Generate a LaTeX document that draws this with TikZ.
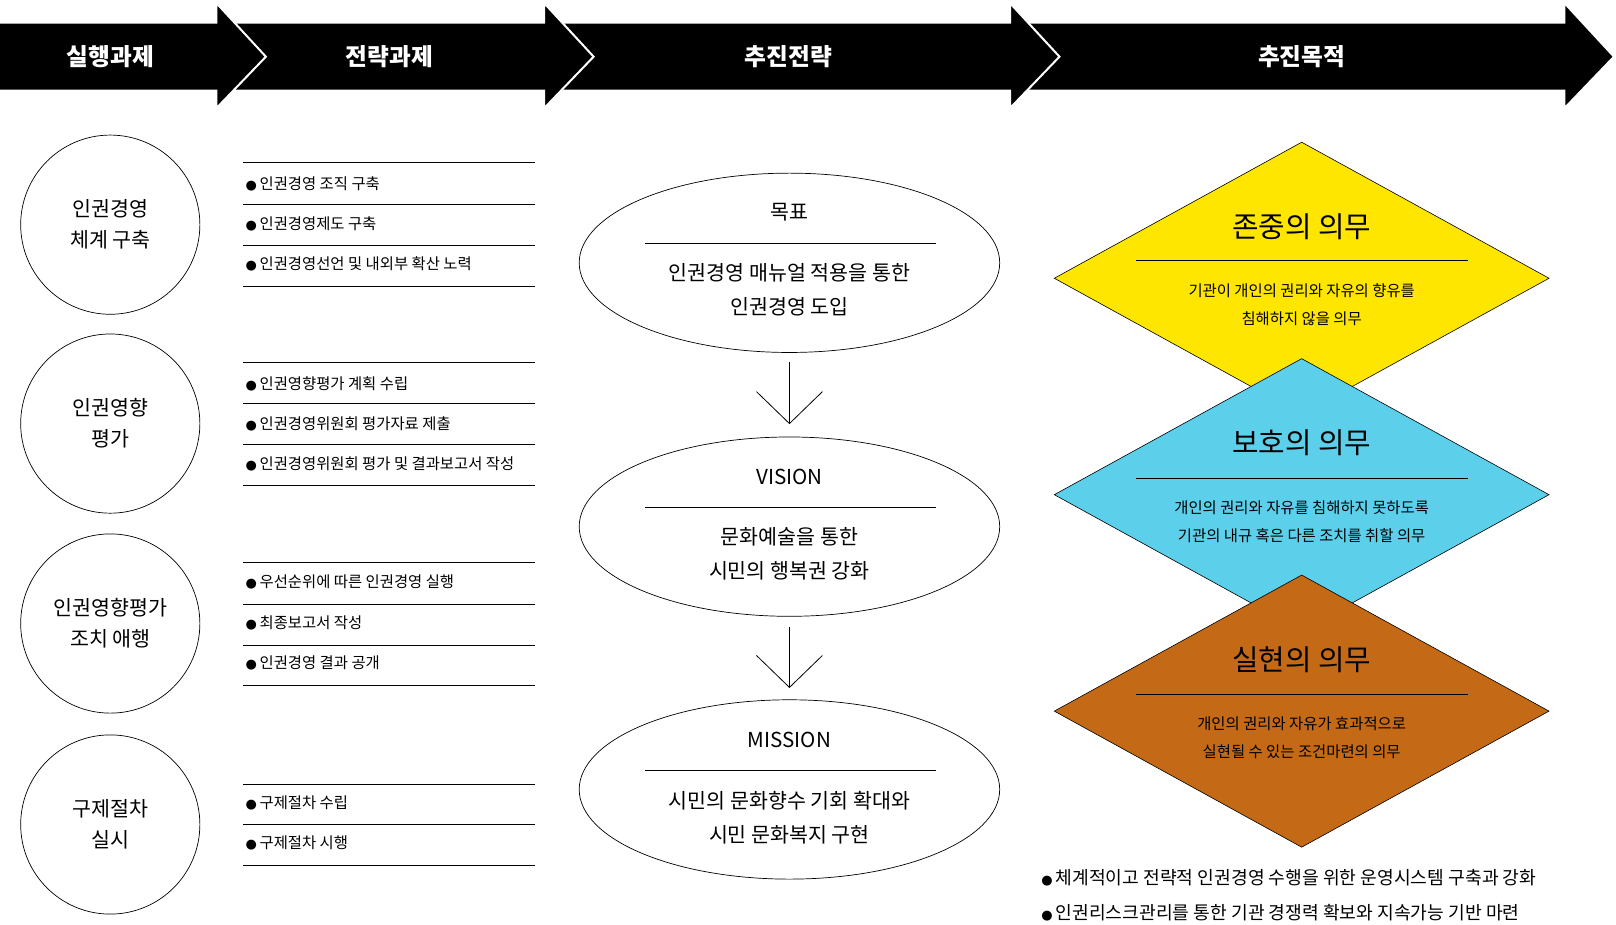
\documentclass[tikz,border=0pt]{standalone}
\usepackage{fontspec}
\setmainfont{Noto Sans CJK KR}
\newfontfamily\dejavu{DejaVu Sans}
\newcommand{\bul}{{\dejavu\fontsize{6.5}{6.5}\selectfont●}\,}
\begin{document}
\begin{tikzpicture}[x=0.5153pt,y=-0.5153pt,
  seg/.style={fill=black,draw=white,line width=1pt,line join=miter},
  htext/.style={text=white,font=\fontsize{11.85}{11.85}\selectfont\bfseries},
  circ/.style={draw,circle,line width=0.35pt,inner sep=0pt,outer sep=0pt,minimum size=89.6pt,align=center,font=\fontsize{10.3}{15.5}\selectfont},
  item/.style={anchor=west,inner sep=0pt,font=\fontsize{7.7}{8}\selectfont},
  sep/.style={line width=0.35pt},
  etext/.style={align=center,font=\fontsize{10.3}{17}\selectfont},
  dia/.style={draw,line width=0.3pt},
  dtitle/.style={font=\fontsize{14.4}{14.4}\selectfont},
  dtext/.style={align=center,font=\fontsize{7.7}{13.9}\selectfont},
  arr/.style={line width=0.4pt}]
\path[use as bounding box] (0,0) rectangle (1568,897);
% header
\draw[seg] (990,22)--(1518,22)--(1518,3)--(1566,55)--(1518,105)--(1518,88)--(990,88)--cycle;
\draw[seg] (540,22)--(980,22)--(980,3)--(1028,55)--(980,105)--(980,88)--(540,88)--cycle;
\draw[seg] (220,22)--(528,22)--(528,3)--(576,55)--(528,105)--(528,88)--(220,88)--cycle;
\draw[seg] (-2,22)--(210,22)--(210,3)--(258,55)--(210,105)--(210,88)--(-2,88)--cycle;
\node[htext] (h1) at (107,55) {실행과제};
\node[htext] (h2) at (378,55) {전략과제};
\node[htext] (h3) at (765,55) {추진전략};
\node[htext] (h4) at (1263,55) {추진목적};
% circles
\node[circ] (c1) at (107,218) {인권경영\\체계 구축};
\node[circ] (c2) at (107,411) {인권영향\\평가};
\node[circ] (c3) at (107,605) {인권영향평가\\조치 애행};
\node[circ] (c4) at (107,800) {구제절차\\실시};
% lists
\foreach \y in {158,198,238,278,352,391,431,471,546,586,626,665,761,800,840}
  \draw[sep] (236,\y)--(519,\y);
\node[item] (l1) at (238,178) {\bul 인권경영 조직 구축};
\node[item] (l2) at (238,217) {\bul 인권경영제도 구축};
\node[item] (l3) at (238,256) {\bul 인권경영선언 및 내외부 확산 노력};
\node[item] (l4) at (238,372) {\bul 인권영향평가 계획 수립};
\node[item] (l5) at (238,411) {\bul 인권경영위원회 평가자료 제출};
\node[item] (l6) at (238,450) {\bul 인권경영위원회 평가 및 결과보고서 작성};
\node[item] (l7) at (238,565) {\bul 우선순위에 따른 인권경영 실행};
\node[item] (l8) at (238,604) {\bul 최종보고서 작성};
\node[item] (l9) at (238,643) {\bul 인권경영 결과 공개};
\node[item] (l10) at (238,779) {\bul 구제절차 수립};
\node[item] (l11) at (238,818) {\bul 구제절차 시행};
% ellipses
\foreach \y in {255,511,766}
  \draw[line width=0.35pt] (766,\y) ellipse (204 and 87);
\foreach \y in {236,492,747} \draw[sep] (626,\y)--(908,\y);
\node[font=\fontsize{10.3}{10.3}\selectfont] (t1) at (766,206) {목표};
\node[font=\fontsize{10.3}{10.3}\selectfont] (t2) at (766,463) {VISION};
\node[font=\fontsize{10.3}{10.3}\selectfont] (t3) at (766,718) {MISSION};
\node[etext] (x1) at (766,281) {인권경영 매뉴얼 적용을 통한\\인권경영 도입};
\node[etext] (x2) at (766,537) {문화예술을 통한\\시민의 행복권 강화};
\node[etext] (x3) at (766,793) {시민의 문화향수 기회 확대와\\시민 문화복지 구현};
\coordinate (a1s) at (766,351); \coordinate (a1e) at (766,411);
\coordinate (a2s) at (766,608); \coordinate (a2e) at (766,667);
\draw[arr] (a1s)--(a1e); \draw[arr] (734,380)--(a1e)--(798,380);
\draw[arr] (a2s)--(a2e); \draw[arr] (734,636)--(a2e)--(798,636);
% diamonds
\draw[dia,fill={rgb,255:red,255;green,230;blue,0}] (1263,138)--(1503,270)--(1263,402)--(1023,270)--cycle;
\draw[dia,fill={rgb,255:red,92;green,207;blue,234}] (1263,348)--(1503,480)--(1263,612)--(1023,480)--cycle;
\draw[dia,fill={rgb,255:red,196;green,106;blue,23}] (1263,558)--(1503,690)--(1263,822)--(1023,690)--cycle;
\foreach \y in {253,464,674} \draw[sep] (1102,\y)--(1424,\y);
\node[dtitle] (d1) at (1263,220) {존중의 의무};
\node[dtitle] (d2) at (1263,430) {보호의 의무};
\node[dtitle] (d3) at (1263,640) {실현의 의무};
\node[dtext] (y1) at (1263,296) {기관이 개인의 권리와 자유의 향유를\\침해하지 않을 의무};
\node[dtext] (y2) at (1263,506) {개인의 권리와 자유를 침해하지 못하도록\\기관의 내규 혹은 다른 조치를 취할 의무};
\node[dtext] (y3) at (1263,716) {개인의 권리와 자유가 효과적으로\\실현될 수 있는 조건마련의 의무};
% bottom
\node[item,font=\fontsize{9.1}{9.1}\selectfont] (b1) at (1010,852) {\bul 체계적이고 전략적 인권경영 수행을 위한 운영시스템 구축과 강화};
\node[item,font=\fontsize{9.1}{9.1}\selectfont] (b2) at (1010,886) {\bul 인권리스크관리를 통한 기관 경쟁력 확보와 지속가능 기반 마련};
\end{tikzpicture}
\end{document}
